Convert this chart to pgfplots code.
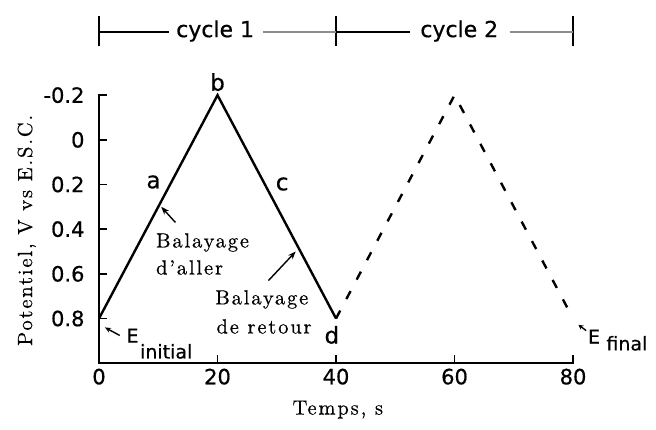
\documentclass[border=0pt]{standalone}
\usepackage{fontspec}
\setmainfont{lmroman10-regular.otf}
\setsansfont{DejaVu Sans}
\usepackage{pgfplots}
\pgfplotsset{compat=1.18}
\usepackage{pgfplotstable}
\usetikzlibrary{arrows.meta}

\newcommand{\sanslab}{\sffamily\fontsize{21}{24}\selectfont\addfontfeature{FakeBold=0.6}}
\newcommand{\serlab}{\rmfamily\fontsize{20.5}{24}\selectfont\addfontfeature{LetterSpace=9,FakeBold=0.5}}

% Applied potential (V vs SCE) against time (s)
\pgfplotstableread{
t E
0 0.8
20 -0.2
40 0.8
}\cycleone
\pgfplotstableread{
t E
40 0.8
60 -0.2
80 0.8
}\cycletwo

\begin{document}
\begin{tikzpicture}
\begin{axis}[
  scale only axis, width=474pt, height=268pt,
  xmin=0, xmax=80, ymin=-0.2, ymax=1.0, y dir=reverse,
  axis x line*=bottom, axis y line*=left,
  axis line style={line width=2.5pt, line cap=rect},
  tick align=inside, major tick length=8pt,
  every tick/.style={black, line width=1.6pt},
  xtick={0,20,40,60,80}, xticklabels={0,20,40,60,80},
  ytick={-0.2,0,0.2,0.4,0.6,0.8}, yticklabels={-0.2,0,0.2,0.4,0.6,0.8},
  ticklabel style={font=\sanslab},
  xticklabel style={yshift=-2pt},
  yticklabel style={xshift=-11pt},
  clip=false,
]
\addplot[black, line width=2.4pt] table[x=t, y=E] {\cycleone};
\addplot[black, line width=2.4pt, dash pattern=on 9pt off 13pt] table[x=t, y=E] {\cycletwo};

% point labels
\node[font=\sanslab\fontsize{23}{26}\selectfont, anchor=base] at (axis cs:9.2,0.217) {a};
\node[font=\sanslab\fontsize{23}{26}\selectfont, anchor=base] at (axis cs:20.0,-0.22) {b};
\node[font=\sanslab\fontsize{23}{26}\selectfont, anchor=base] at (axis cs:30.9,0.226) {c};
\node[font=\sanslab\fontsize{23}{26}\selectfont, anchor=base] at (axis cs:39.3,0.912) {d};

% sweep descriptions
\node[font=\serlab, anchor=base west, inner sep=0pt] at (axis cs:9.6,0.482) {Balayage};
\node[font=\serlab, anchor=base west, inner sep=0pt] at (axis cs:9.6,0.603) {d'aller};
\node[font=\serlab, anchor=base west, inner sep=0pt] at (axis cs:19.6,0.737) {Balayage};
\node[font=\serlab, anchor=base west, inner sep=0pt] at (axis cs:19.8,0.867) {de retour};
\draw[-{Stealth[length=8pt,width=6pt]}, line width=1.4pt] (axis cs:12.9,0.37) -- (axis cs:10.5,0.30);
\draw[-{Stealth[length=8pt,width=6pt]}, line width=1.4pt] (axis cs:28.6,0.63) -- (axis cs:33.2,0.50);

% initial and final potentials
\draw[-{Stealth[length=6pt,width=5pt]}, line width=1.4pt] (axis cs:3.5,0.876) -- (axis cs:1.0,0.84);
\node[font=\sanslab\fontsize{19}{22}\selectfont, anchor=base west, inner sep=0pt] at (axis cs:4.6,0.908) {E};
\node[font=\sanslab\fontsize{19}{22}\selectfont, anchor=base west, inner sep=0pt] at (axis cs:6.9,0.979) {initial};
\draw[-{Stealth[length=5pt,width=5pt]}, line width=1.4pt] (axis cs:82.2,0.854) -- (axis cs:80.9,0.828);
\node[font=\sanslab\fontsize{19}{22}\selectfont, anchor=base west, inner sep=0pt] at (axis cs:82.5,0.912) {E};
\node[font=\sanslab\fontsize{19}{22}\selectfont, anchor=base west, inner sep=0pt] at (axis cs:85.6,0.943) {final};

% axis titles
\node[font=\serlab, anchor=base, rotate=90, inner sep=0pt] at (axis cs:-11.3,0.405) {Potentiel, V vs E.S.C.};
\node[font=\serlab, anchor=base, inner sep=0pt] at (axis cs:40.3,1.23) {Temps, s};

% cycle brackets
\draw[line width=1.8pt] (axis cs:0,-0.554) -- (axis cs:0,-0.42);
\draw[line width=1.8pt] (axis cs:40,-0.554) -- (axis cs:40,-0.42);
\draw[line width=1.8pt] (axis cs:80,-0.554) -- (axis cs:80,-0.42);
\draw[line width=1.4pt] (axis cs:0,-0.4825) -- (axis cs:11.8,-0.4825);
\draw[line width=1.4pt, black!45] (axis cs:27.6,-0.4825) -- (axis cs:40,-0.4825);
\draw[line width=1.4pt] (axis cs:40,-0.4825) -- (axis cs:52.5,-0.4825);
\draw[line width=1.4pt, black!45] (axis cs:69.3,-0.4825) -- (axis cs:80,-0.4825);
\node[font=\sanslab\fontsize{22}{24}\selectfont, anchor=base] at (axis cs:19.6,-0.46) {cycle 1};
\node[font=\sanslab\fontsize{22}{24}\selectfont, anchor=base] at (axis cs:60.8,-0.46) {cycle 2};

\coordinate (bbsw) at (axis cs:-16.71,1.298);
\coordinate (bbne) at (axis cs:94.0,-0.626);
\end{axis}
\pgfresetboundingbox
\useasboundingbox (bbsw) rectangle (bbne);
\end{tikzpicture}
\end{document}
